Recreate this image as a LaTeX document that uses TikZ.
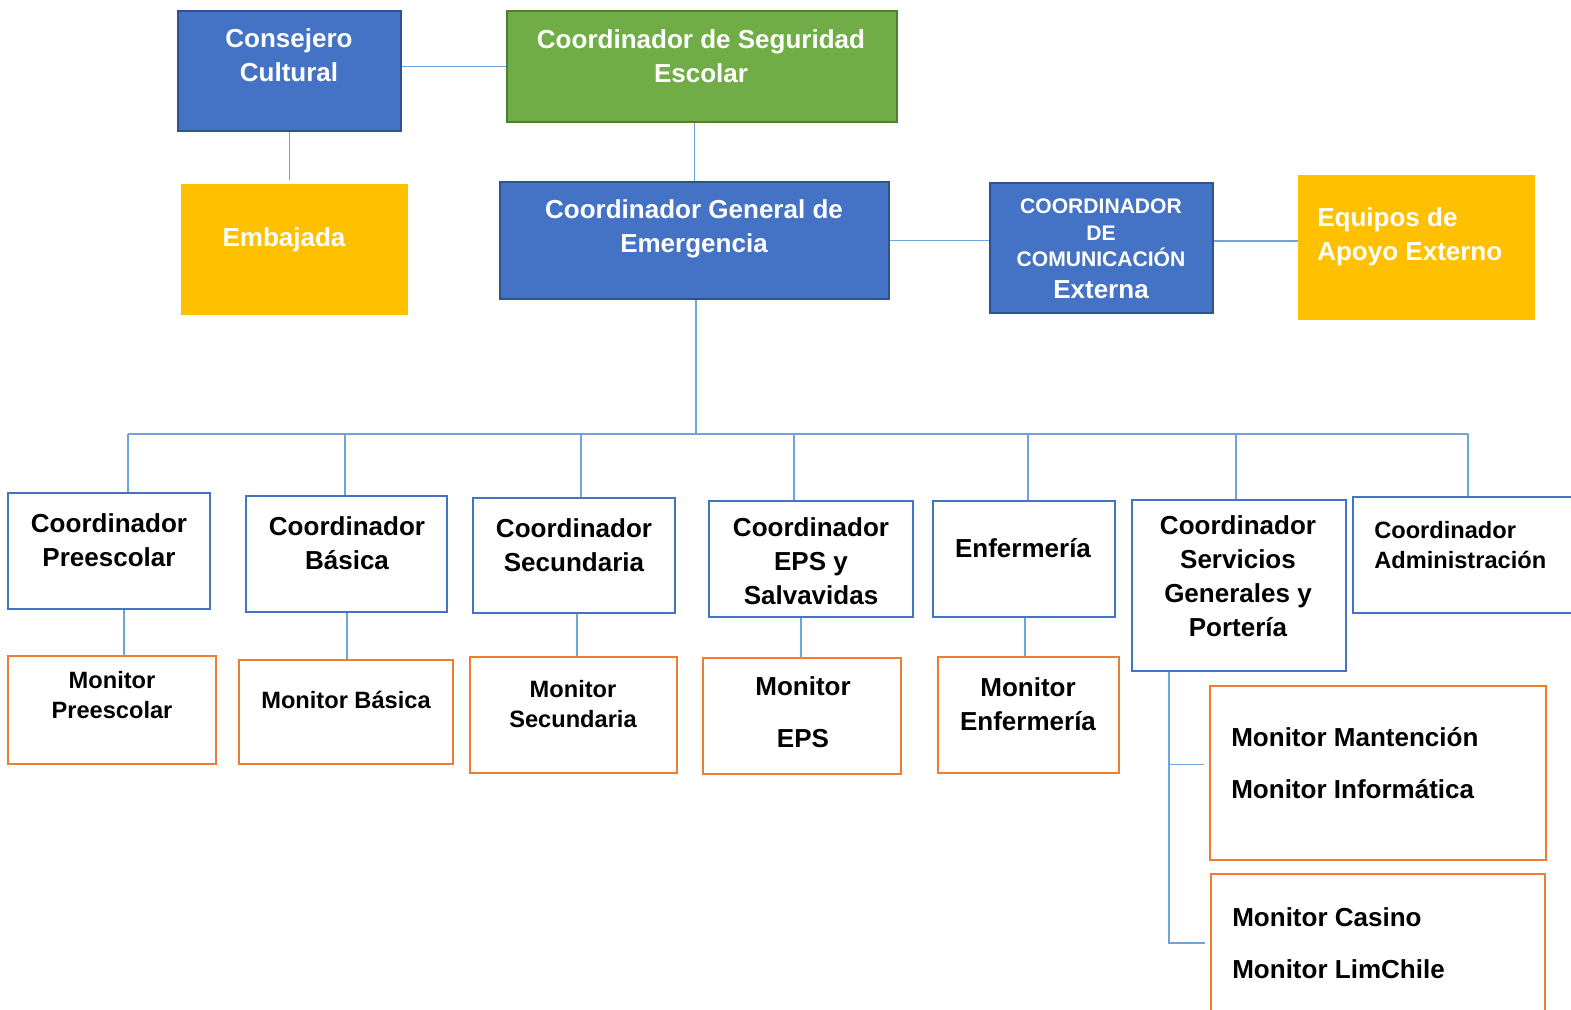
\documentclass[tikz,border=0pt]{standalone}
\usepackage{fontspec}
\setmainfont{Liberation Sans}
\usepackage{tikz}
\usetikzlibrary{fit}
\definecolor{cblue}{HTML}{4472C4}
\definecolor{cbluedark}{HTML}{2F528F}
\definecolor{cgreen}{HTML}{70AD47}
\definecolor{cgreendark}{HTML}{507E32}
\definecolor{cyellow}{HTML}{FFC000}
\definecolor{corange}{HTML}{ED7D31}
\definecolor{clink}{HTML}{6FA3DC}

\begin{document}
\begin{tikzpicture}[x=0.025cm,y=-0.025cm,
	blue box/.style={draw=cbluedark, fill=cblue, line width=1.4pt, inner sep=0},
	green box/.style={draw=cgreendark, fill=cgreen, line width=1.4pt, inner sep=0},
	yellow box/.style={fill=cyellow, inner sep=0},
	coord box/.style={draw=cblue, line width=2pt, fill=white, inner sep=0},
	mon box/.style={draw=corange, line width=2pt, fill=white, inner sep=0},
	wtxt/.style={text=white, font=\bfseries\fontsize{18.5}{24.2}\selectfont, align=center, inner sep=0},
	btxt/.style={font=\bfseries\fontsize{18.5}{24.2}\selectfont, align=center, inner sep=0},
	stxt/.style={font=\bfseries\fontsize{16.8}{21.5}\selectfont, align=center, inner sep=0},
	link/.style={draw=clink, line width=1pt}]
	\useasboundingbox (0,0) rectangle (1571,1009);
	
	% Top boxes
	\node[blue box, fit={(178,11) (401,131)}] (cc) {};
	\node[green box, fit={(507,11) (897,122)}] (cse) {};
	\node[yellow box, fit={(181,184) (408,315)}] (emb) {};
	\node[blue box, fit={(500,182) (889,299)}] (cge) {};
	\node[blue box, fit={(990,183) (1213,313)}] (com) {};
	\node[yellow box, fit={(1298,175) (1535,320)}] (ext) {};
	
	\node[wtxt] (t-cc) at (289,55) {Consejero\\Cultural};
	\node[wtxt] (t-cse) at (701,56) {Coordinador de Seguridad\\Escolar};
	\node[wtxt] (t-emb) at (284,240) {Embajada};
	\node[wtxt] (t-cge) at (694,229) {Coordinador General de\\Emergencia};
	\node[wtxt, font=\bfseries\fontsize{15}{18.8}\selectfont] (t-com) at (1101,233) {COORDINADOR\\DE\\COMUNICACIÓN};
	\node[wtxt] (t-com2) at (1101,290) {Externa};
	\node[wtxt, align=left, anchor=west] (t-ext) at (1317,237) {Equipos de\\Apoyo Externo};
	
	% Coordinadores
	\node[coord box, fit={(8,493) (210,609)}] (pre) {};
	\node[coord box, fit={(246,496) (447,612)}] (bas) {};
	\node[coord box, fit={(473,498) (675,613)}] (sec) {};
	\node[coord box, fit={(709,501) (913,617)}] (eps) {};
	\node[coord box, fit={(933,501) (1115,617)}] (enf) {};
	\node[coord box, fit={(1132,500) (1346,671)}] (ser) {};
	\node[coord box, fit={(1353,497) (1580,613)}] (adm) {};
	
	\node[btxt] (t-pre) at (109,540) {Coordinador\\Preescolar};
	\node[btxt] (t-bas) at (347,543) {Coordinador\\Básica};
	\node[btxt] (t-sec) at (574,545) {Coordinador\\Secundaria};
	\node[btxt] (t-eps) at (811,561) {Coordinador\\EPS y\\Salvavidas};
	\node[btxt] (t-enf) at (1023,548) {Enfermería};
	\node[btxt] (t-ser) at (1238,576) {Coordinador\\Servicios\\Generales y\\Portería};
	\node[stxt, align=left, anchor=west] (t-adm) at (1374,545) {Coordinador\\Administración};
	
	% Monitores
	\node[mon box, fit={(8,656) (216,764)}] (mpre) {};
	\node[mon box, fit={(239,660) (453,764)}] (mbas) {};
	\node[mon box, fit={(470,657) (677,773)}] (msec) {};
	\node[mon box, fit={(703,658) (901,774)}] (meps) {};
	\node[mon box, fit={(938,657) (1119,773)}] (menf) {};
	\node[mon box, fit={(1210,686) (1546,860)}] (mman) {};
	\node[mon box, fit={(1211,874) (1545,1020)}] (mcas) {};
	
	\node[stxt] (t-mpre) at (112,695) {Monitor\\Preescolar};
	\node[stxt] (t-mbas) at (346,700) {Monitor Básica};
	\node[stxt] (t-msec) at (573,704) {Monitor\\Secundaria};
	\node[btxt] (t-meps) at (803,712) {Monitor\\[13pt]EPS};
	\node[btxt] (t-menf) at (1028,704) {Monitor\\Enfermería};
	\node[btxt, align=left, anchor=west] (t-mman) at (1231,763) {Monitor Mantención\\[13pt]Monitor Informática};
	\node[btxt, align=left, anchor=west] (t-mcas) at (1232,943) {Monitor Casino\\[13pt]Monitor LimChile};
	
	% Links
	\draw[link] ([yshift=3pt]cc.east) -- ([yshift=3pt]cse.west |- cc.east);
	\draw[link] (cc.south) -- ([yshift=3pt]cc.south |- emb.north);
	\draw[link] (cge.north) -- (cge.north |- cse.south);
	\draw[link] (cge.east) -- (com.west |- cge.east);
	\draw[link] ([yshift=5pt]com.east) -- ([yshift=5pt]ext.west |- com.east);
	
	\coordinate (bus) at (696,434);
	\draw[link] (cge.south -| bus) -- (bus);
	\draw[link, line width=1.3pt] (128,434) -- (1468,434);
	\foreach \n/\x in {pre/128,bas/345,sec/581,eps/794,enf/1028,ser/1236,adm/1468}{
		\coordinate (b\n) at (\x,434);
		\draw[link] (b\n) -- (b\n |- \n.north);
	}
	\foreach \n/\x in {pre/124,bas/347,sec/577,eps/801,enf/1025}
		\draw[link] (\n.south -| \x,0) -- (m\n.north -| \x,0);
	
	\coordinate (spine) at (1169,0);
	\draw[link] (ser.south -| spine) |- ([xshift=-3pt,yshift=3pt]mcas.west);
	\draw[link] ([yshift=6pt]spine |- mman.west) -- ([xshift=-3pt,yshift=6pt]mman.west);
\end{tikzpicture}
\end{document}
